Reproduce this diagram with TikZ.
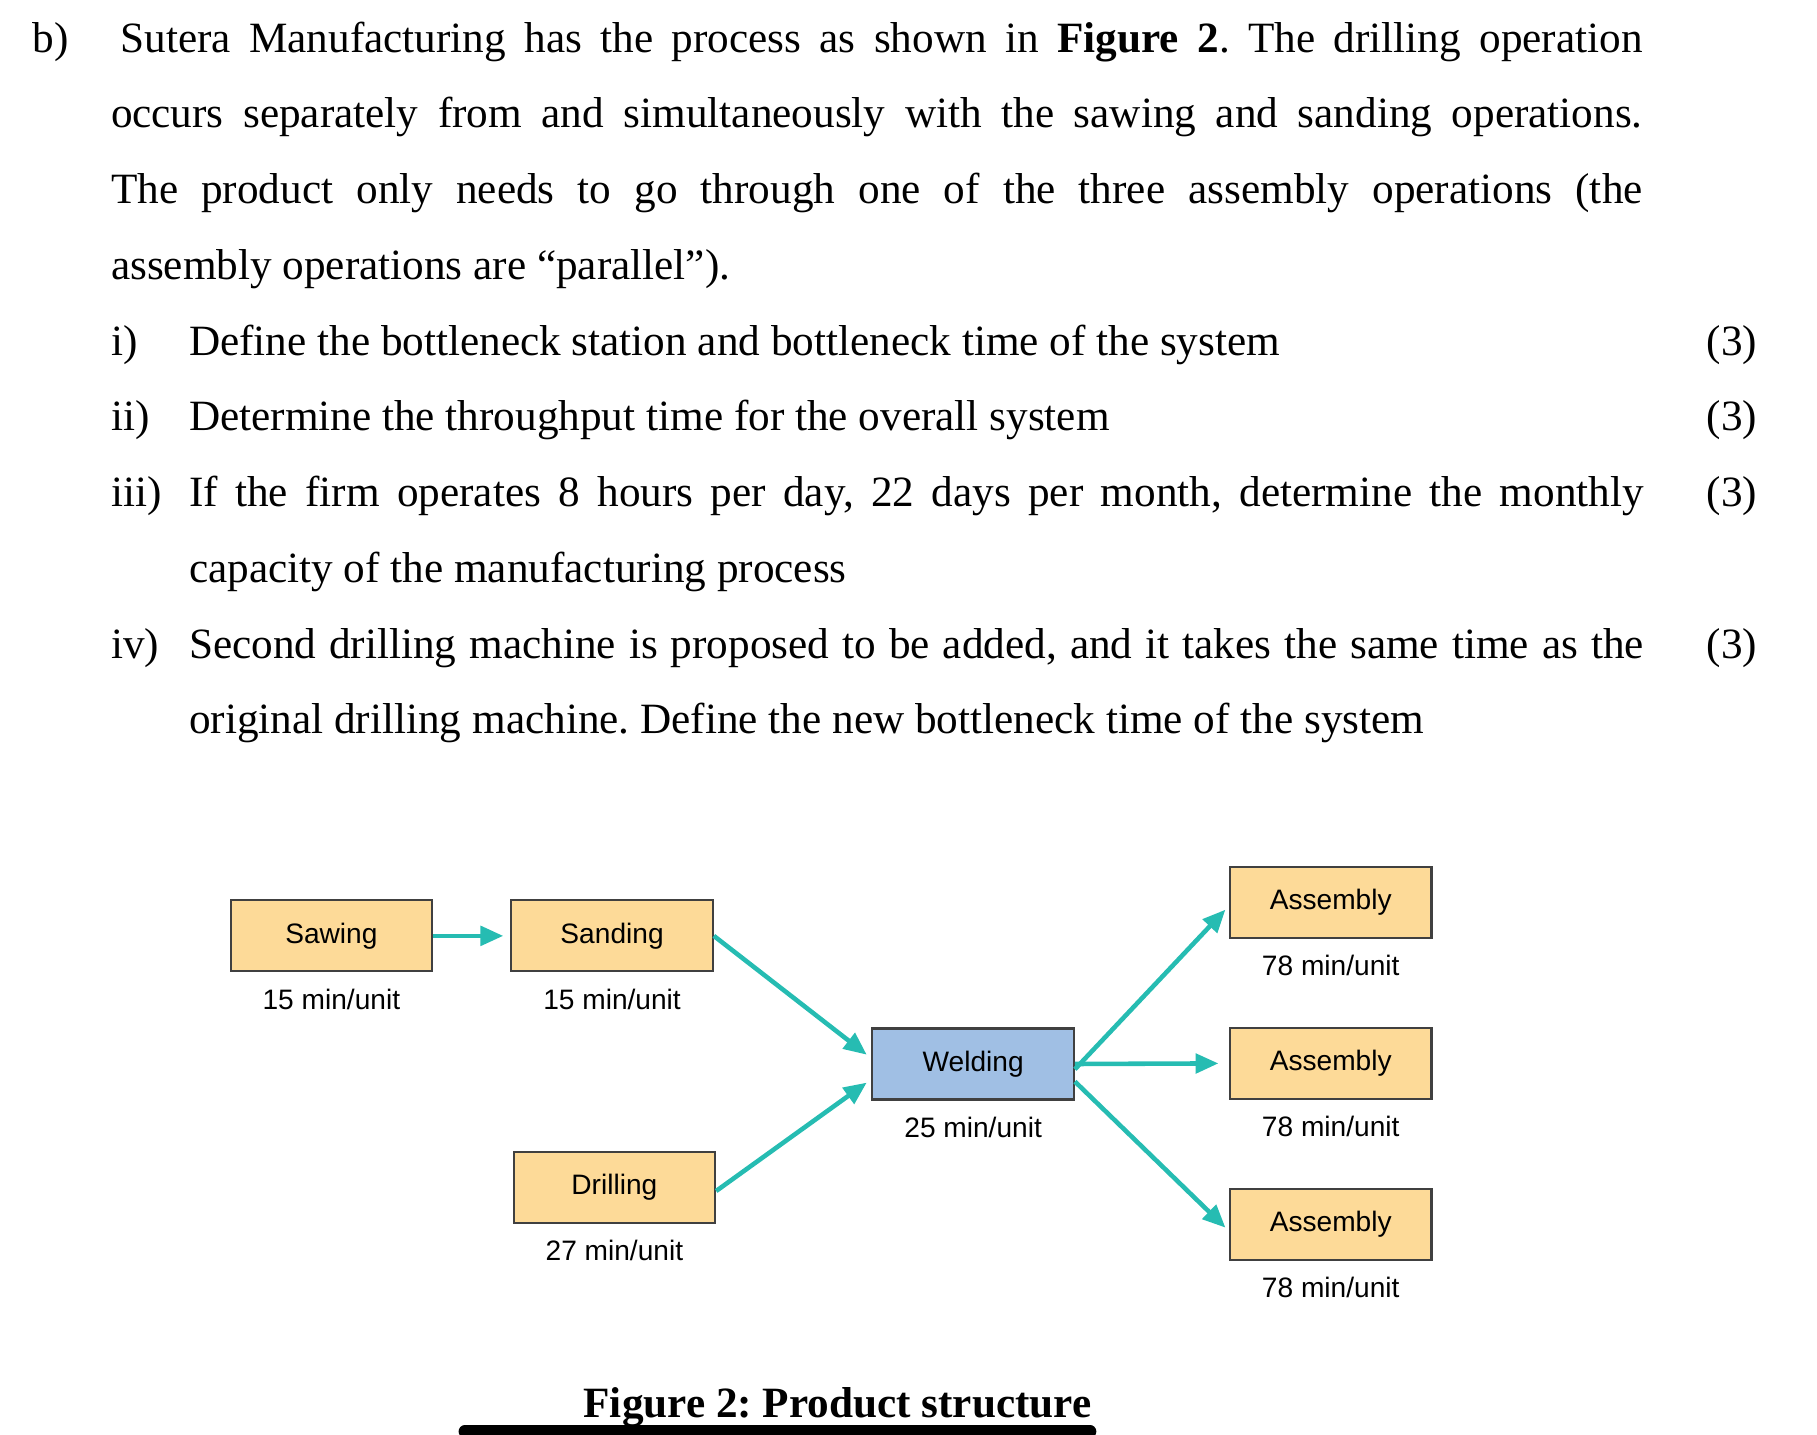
\documentclass[tikz,border=0pt]{standalone}
\usepackage{fontspec}
\setmainfont{Liberation Serif}
\newfontfamily\diag{Liberation Sans}
\usetikzlibrary{arrows.meta}
\definecolor{boxfill}{RGB}{253,218,152}
\definecolor{weldfill}{RGB}{160,191,228}
\definecolor{teal2}{RGB}{38,188,178}
\tikzset{
  stbox/.style={draw=black!75,line width=1.2pt,fill=boxfill,minimum width=4.03cm,minimum height=1.42cm,inner sep=0pt,font=\diag\fontsize{16}{18}\selectfont},
  lbl/.style={font=\diag\fontsize{16}{18}\selectfont,inner sep=0pt},
  flow/.style={draw=teal2,line width=2.6pt,-{Triangle[length=13pt,width=11pt]}},
  txt/.style={anchor=base west,inner sep=0pt,font=\fontsize{24.6}{43}\selectfont},
  mk/.style={anchor=base east,inner sep=0pt,font=\fontsize{24.6}{43}\selectfont}
}
\begin{document}
\frenchspacing
\begin{tikzpicture}[x=0.0233cm,y=-0.0233cm]
\useasboundingbox (0,0) rectangle (1560,1232);
% text
\node[txt] (b) at (28,45) {b)};
\node[txt,text width=30.64cm,align=justify] (para) at (95,45) {\hspace*{0.19cm}Sutera Manufacturing has the process as shown in \textbf{Figure 2}. The drilling operation\linebreak occurs separately from and simultaneously with the sawing and sanding operations.\linebreak The product only needs to go through one of the three assembly operations (the\linebreak assembly operations are “parallel”).};
\node[txt] (i1) at (95,305) {i)};
\node[txt] (t1) at (162,305) {Define the bottleneck station and bottleneck time of the system};
\node[txt] (i2) at (95,370) {ii)};
\node[txt] (t2) at (162,370) {Determine the throughput time for the overall system};
\node[txt] (i3) at (95,435) {iii)};
\node[txt,text width=29.1cm,align=justify] (t3) at (162,435) {If the firm operates 8 hours per day, 22 days per month, determine the monthly\linebreak capacity of the manufacturing process};
\node[txt] (i4) at (95,565) {iv)};
\node[txt,text width=29.1cm,align=justify] (t4) at (162,565) {Second drilling machine is proposed to be added, and it takes the same time as the\linebreak original drilling machine. Define the new bottleneck time of the system};
\node[mk] (m1) at (1509,305) {(3)};
\node[mk] (m2) at (1509,370) {(3)};
\node[mk] (m3) at (1509,435) {(3)};
\node[mk] (m4) at (1509,565) {(3)};
% diagram
\node[stbox] (saw) at (284.5,803.5) {Sawing};
\node[stbox] (sand) at (525.5,803.5) {Sanding};
\node[stbox] (drill) at (527.5,1019.5) {Drilling};
\node[stbox,fill=weldfill] (weld) at (835.5,913.5) {Welding};
\node[stbox] (a1) at (1142.5,775) {Assembly};
\node[stbox] (a2) at (1142.5,913) {Assembly};
\node[stbox] (a3) at (1142.5,1051) {Assembly};
\node[lbl] (lsaw) at (284.5,858) {15 min/unit};
\node[lbl] (lsand) at (525.5,858) {15 min/unit};
\node[lbl] (ldrill) at (527.5,1074) {27 min/unit};
\node[lbl] (lweld) at (835.5,968) {25 min/unit};
\node[lbl] (la1) at (1142.5,829) {78 min/unit};
\node[lbl] (la2) at (1142.5,967) {78 min/unit};
\node[lbl] (la3) at (1142.5,1105) {78 min/unit};
\draw[flow] (saw.east) -- ([xshift=-4]sand.west);
\draw[flow] (sand.east) -- ([shift={(-4,-8)}]weld.west);
\draw[flow] ([yshift=-2]drill.east) -- ([shift={(-4,16)}]weld.west);
\draw[flow] ([yshift=-3]weld.east) -- ([shift={(-3,6)}]a1.west);
\draw[flow] (weld.east) -- ([xshift=-6]a2.west);
\draw[flow] ([yshift=-10]weld.east) -- ([shift={(-3,3)}]a3.west);
% caption
\node[anchor=base,inner sep=0pt,font=\fontsize{24.6}{28}\selectfont\bfseries] (cap) at (719,1217) {Figure 2: Product structure};
\coordinate (u1) at (399,1229);
\coordinate (u2) at (936,1229);
\draw[line width=7pt,line cap=round] (u1) -- (u2);
\end{tikzpicture}
\end{document}
